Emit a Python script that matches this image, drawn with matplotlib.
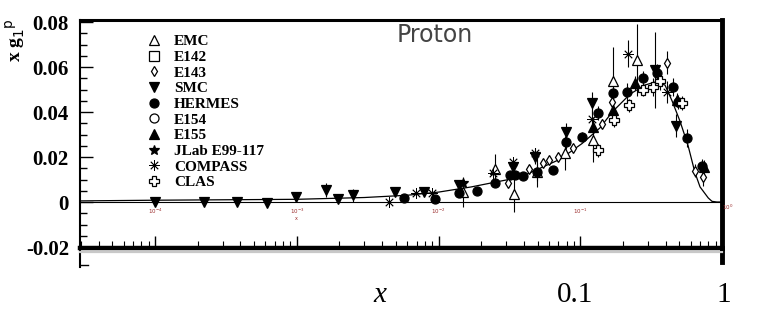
import numpy as np
import matplotlib
matplotlib.use("Agg")
import matplotlib.pyplot as plt
from matplotlib.lines import Line2D

# data: x, x*g1p, error
smc_x = [1.0e-4, 2.2e-4, 3.8e-4, 6.2e-4, 9.9e-4, 1.6e-3, 1.95e-3, 2.5e-3, 4.9e-3, 7.9e-3,
         0.0139, 0.0335, 0.048, 0.079, 0.121, 0.337, 0.473]
smc_y = [0.0001, 0.0002, 0.0, -0.0003, 0.0022, 0.0053, 0.0013, 0.003, 0.0044, 0.0045,
         0.0075, 0.0156, 0.020, 0.031, 0.044, 0.0587, 0.034]
smc_e = [0.0005, 0.0005, 0.0006, 0.0006, 0.0012, 0.003, 0.0012, 0.003, 0.0015, 0.0012,
         0.002, 0.0025, 0.003, 0.004, 0.005, 0.017, 0.005]

hermes_x = [5.7e-3, 9.4e-3, 0.0139, 0.0187, 0.025, 0.0319, 0.0346, 0.0394, 0.0495, 0.0642,
            0.0793, 0.1028, 0.133, 0.170, 0.214, 0.277, 0.348, 0.451, 0.489, 0.566, 0.723]
hermes_y = [0.0018, 0.0013, 0.004, 0.0049, 0.0084, 0.012, 0.012, 0.0116, 0.0133, 0.0142,
            0.0267, 0.0289, 0.0396, 0.0484, 0.0489, 0.0551, 0.0573, 0.051, 0.0444, 0.0284, 0.016]
hermes_e = [0.0008, 0.0008, 0.0012, 0.0015, 0.0015, 0.0018, 0.0015, 0.0015, 0.004, 0.0018,
            0.003, 0.002, 0.003, 0.003, 0.004, 0.003, 0.004, 0.004, 0.003, 0.004, 0.003]

emc_x = [0.0149, 0.025, 0.034, 0.0495, 0.078, 0.123, 0.170, 0.251]
emc_y = [0.0044, 0.0147, 0.0036, 0.0133, 0.0218, 0.0276, 0.054, 0.063]
emc_e = [0.0065, 0.0067, 0.008, 0.0067, 0.0075, 0.01, 0.015, 0.016]

e143_x = [0.0309, 0.0435, 0.0545, 0.0601, 0.0696, 0.0888, 0.142, 0.1675, 0.409, 0.645, 0.734]
e143_y = [0.0084, 0.0147, 0.0173, 0.0187, 0.020, 0.024, 0.0347, 0.0444, 0.062, 0.014, 0.011]
e143_e = [0.0012, 0.0012, 0.0012, 0.0012, 0.0015, 0.0015, 0.002, 0.002, 0.005, 0.003, 0.004]

clas_x = [0.133, 0.173, 0.221, 0.277, 0.326, 0.365, 0.522]
clas_y = [0.023, 0.0364, 0.043, 0.050, 0.051, 0.054, 0.044]
clas_e = [0.003, 0.003, 0.003, 0.003, 0.004, 0.004, 0.003]

compass_x = [4.5e-3, 6.9e-3, 9.0e-3, 0.0242, 0.0335, 0.048, 0.121, 0.217, 0.409]
compass_y = [0.0, 0.004, 0.004, 0.013, 0.0178, 0.022, 0.037, 0.066, 0.049]
compass_e = [0.0008, 0.0008, 0.0008, 0.0015, 0.0015, 0.002, 0.004, 0.006, 0.005]

e155_x = [0.123, 0.170, 0.243, 0.481, 0.747]
e155_y = [0.0333, 0.041, 0.0529, 0.0453, 0.0156]
e155_e = [0.002, 0.002, 0.003, 0.003, 0.003]

jlab_x = [0.0149]
jlab_y = [0.0084]
jlab_e = [0.002]

fit_x = [3e-5, 1e-4, 1e-3, 3e-3, 6e-3, 0.01, 0.017, 0.0375, 0.072, 0.103, 0.138, 0.168,
         0.225, 0.286, 0.337, 0.396, 0.444, 0.505, 0.575, 0.645, 0.70, 0.80, 0.85, 0.92, 1.0]
fit_y = [0.0005, 0.0008, 0.0012, 0.002, 0.003, 0.0044, 0.0067, 0.011, 0.019, 0.026, 0.033, 0.040,
         0.048, 0.052, 0.0533, 0.052, 0.045, 0.036, 0.0253, 0.013, 0.0067, 0.0018, 0.0003, 0.0, 0.0]

yticks = [-0.02, 0, 0.02, 0.04, 0.06, 0.08]
yticklabels = ["-0.02", "0", "0.02", "0.04", "0.06", "0.08"]
inner_decades = [1e-4, 1e-3, 1e-2, 1e-1]
inner_labels = [r"$10^{-4}$", r"$10^{-3}$", r"$10^{-2}$", r"$10^{-1}$"]

W, H = 760, 330
fig = plt.figure(figsize=(7.6, 3.3), dpi=100)
ax = fig.add_axes([80 / W, 1 - 248 / H, 642 / W, 228 / H])

ax.set_xscale("log")
ax.set_xlim(10 ** (-4 - 75 / 141.75), 1.0)
ax.set_ylim(-0.02044, 0.0809)

ax.plot(fit_x, fit_y, color="k", lw=0.9, zorder=2)
ax.axhline(0, color="k", lw=0.8, zorder=1)

series = [
    ("EMC", emc_x, emc_y, emc_e, dict(marker="^", mfc="white")),
    ("E142", [], [], [], dict(marker="s", mfc="white")),
    ("E143", e143_x, e143_y, e143_e, dict(marker="d", mfc="white", ms=5.5)),
    ("SMC", smc_x, smc_y, smc_e, dict(marker="v", mfc="black")),
    ("HERMES", hermes_x, hermes_y, hermes_e, dict(marker="o", mfc="black")),
    ("E154", [], [], [], dict(marker="o", mfc="white")),
    ("E155", e155_x, e155_y, e155_e, dict(marker="^", mfc="black")),
    ("JLab E99-117", jlab_x, jlab_y, jlab_e, dict(marker="*", mfc="black", ms=7.5)),
    ("COMPASS", compass_x, compass_y, compass_e, dict(marker=(8, 2, 0), mfc="black", ms=7.5, mew=0.6)),
    ("CLAS", clas_x, clas_y, clas_e, dict(marker="P", mfc="white", ms=7.5)),
]

handles = []
for name, xs, ys, es, st in series:
    kw = dict(ms=6.5, mec="black", color="black", mew=0.9)
    kw.update(st)
    if len(xs):
        ax.errorbar(xs, ys, yerr=es, fmt="none", ecolor="black", elinewidth=0.8, capsize=0, zorder=3)
        ax.plot(xs, ys, ls="none", zorder=4, **kw)
    handles.append(Line2D([], [], ls="none", label=name, **kw))

leg = ax.legend(handles=handles, loc="upper left", bbox_to_anchor=(0.094, 0.963),
                frameon=False, handlelength=1.0, handletextpad=0.8, labelspacing=0.13,
                borderaxespad=0, prop=dict(family="Liberation Serif", weight="bold", size=11))

# tick styling
ax.set_yticks(yticks)
ax.set_yticklabels(yticklabels, family="Liberation Serif", weight="bold", fontsize=15)
ax.yaxis.set_minor_locator(matplotlib.ticker.MultipleLocator(0.005))
ax.tick_params(axis="y", which="major", direction="in", length=9, width=1, pad=8, right=False)
ax.tick_params(axis="y", which="minor", direction="in", length=5, width=1, right=False)
ax.xaxis.set_minor_locator(matplotlib.ticker.LogLocator(subs=np.arange(2, 10)))
ax.tick_params(axis="x", which="major", direction="in", length=9, width=1, labelbottom=False, top=False)
ax.tick_params(axis="x", which="minor", direction="in", length=5, width=0.8, labelbottom=False, top=False)
ax.xaxis.set_minor_formatter(matplotlib.ticker.NullFormatter())

ax.spines["left"].set_linewidth(1.5)
ax.spines["top"].set_linewidth(2.2)
ax.spines["bottom"].set_linewidth(3.2)
ax.spines["right"].set_linewidth(3.5)

# left and right frame run on below the bottom line
ax.plot([0, 0], [0, -19 / 228], transform=ax.transAxes, color="k", lw=1.5, clip_on=False)
ax.plot([0, 0.012], [-17 / 228, -17 / 228], transform=ax.transAxes, color="k", lw=1, clip_on=False)
ax.plot([1, 1], [0, -14 / 228], transform=ax.transAxes, color="k", lw=3.5, clip_on=False)
ax.plot([0, 1], [-3.5 / 228, -3.5 / 228], transform=ax.transAxes, color="#c8c8c8", lw=1.6, clip_on=False)

# tiny inner decade labels
for xv, lab in zip(inner_decades, inner_labels):
    ax.text(xv, -0.0022, lab, fontsize=4, color="#9b2b2b", ha="center", va="top")
ax.text(1.0, -0.0004, r"$10^{0}$", fontsize=4, color="#9b2b2b", ha="left", va="top", clip_on=False)
ax.text(1e-3, -0.0062, "x", fontsize=3.5, color="#9b2b2b", ha="center", va="top")

ax.text(0.553, 0.935, "Proton", transform=ax.transAxes, fontsize=17, color="#444444",
        family="DejaVu Sans", ha="center", va="center")

fig.text(15 / W, 1 - 18 / H, r"x g$_{1}$$^{\mathrm{p}}$", rotation=90, ha="center", va="top",
         family="Liberation Serif", weight="bold", fontsize=14)

fig.text(380 / W, 1 - 295 / H, "x", family="Liberation Serif", style="italic",
         fontsize=21, ha="center", va="center")
fig.text(575 / W, 1 - 295 / H, "0.1", family="Liberation Serif", fontsize=21, ha="center", va="center")
fig.text(724 / W, 1 - 295 / H, "1", family="Liberation Serif", fontsize=21, ha="center", va="center")

fig.savefig("out.png", dpi=100)
